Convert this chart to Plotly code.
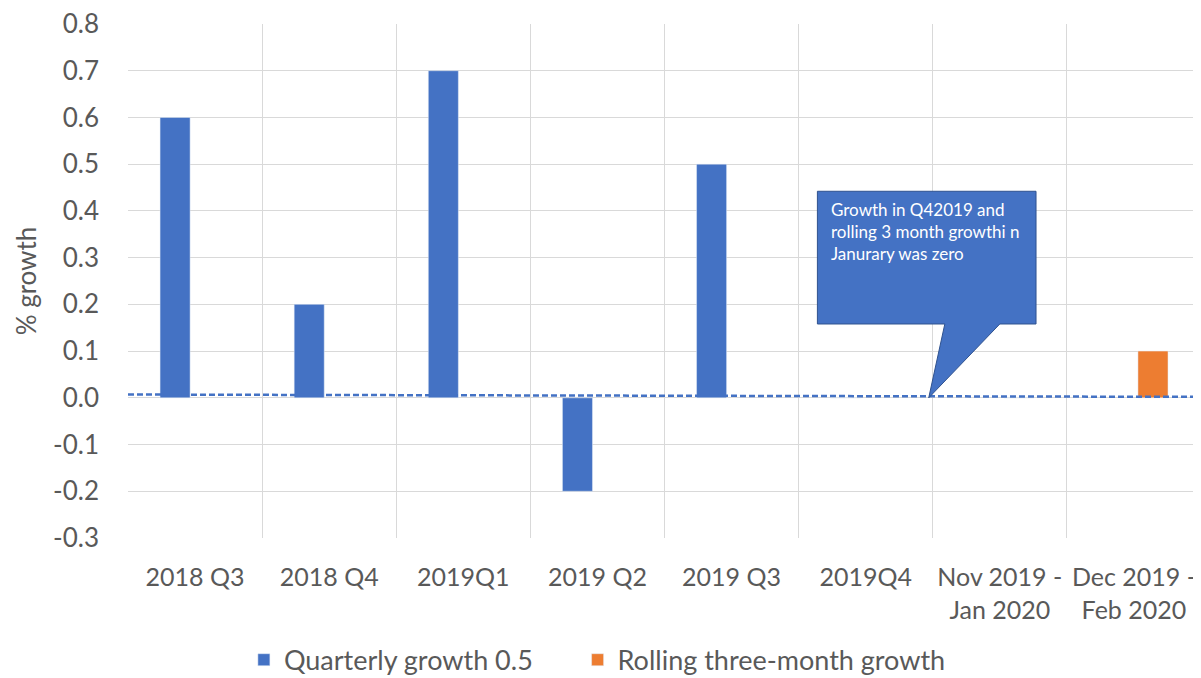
import plotly.graph_objects as go

categories = ["2018 Q3", "2018 Q4", "2019Q1", "2019 Q2", "2019 Q3", "2019Q4",
              "Nov 2019 -<br>Jan 2020", "Dec 2019 -<br>Feb 2020"]
quarterly = [0.6, 0.2, 0.7, -0.2, 0.5, 0.0, None, None]
rolling = [None, None, None, None, None, None, 0.0, 0.1]
trend_x = [-0.5, 7.5]
trend_y = [0.007, 0.002]
y_ticks = [-0.3, -0.2, -0.1, 0.0, 0.1, 0.2, 0.3, 0.4, 0.5, 0.6, 0.7, 0.8]

FONT = "Lato, 'Open Sans', sans-serif"
GREY = "#595959"
BLUE = "#4472C4"
ORANGE = "#ED7D31"

x = list(range(len(categories)))

fig = go.Figure()

fig.add_trace(
    go.Scatter(
        x=trend_x,
        y=trend_y,
        mode="lines",
        line=dict(color=BLUE, width=2.5, dash="6px,3px"),
        showlegend=False,
        hoverinfo="skip",
    )
)

fig.add_trace(
    go.Bar(
        x=x,
        y=quarterly,
        name="Quarterly growth 0.5",
        marker_color=BLUE,
        width=0.224,
        offset=-0.261,
        legend="legend",
    )
)

fig.add_trace(
    go.Bar(
        x=x,
        y=rolling,
        name="Rolling three-month growth",
        marker_color=ORANGE,
        width=0.224,
        offset=0.03,
        legend="legend2",
    )
)

# callout box
box_l, box_r, box_b, box_t = 4.64, 6.27, 0.158, 0.442
tip_x, tip_y = 5.47, 0.0
base_l, base_r = 5.59, 6.0
fig.add_shape(
    type="path",
    xref="x",
    yref="y",
    path=(
        f"M {box_l},{box_t} L {box_r},{box_t} L {box_r},{box_b} "
        f"L {base_r},{box_b} L {tip_x},{tip_y} L {base_l},{box_b} "
        f"L {box_l},{box_b} Z"
    ),
    fillcolor=BLUE,
    line=dict(color="#2F528F", width=1),
    layer="above",
)
fig.add_annotation(
    x=4.73,
    y=0.43,
    xref="x",
    yref="y",
    xanchor="left",
    yanchor="top",
    align="left",
    showarrow=False,
    text="Growth in Q42019 and<br>rolling 3 month growthi n<br>Janurary was zero",
    font=dict(family=FONT, size=17, color="white"),
)

legend_style = dict(
    orientation="h",
    xanchor="left",
    y=-0.19,
    yanchor="top",
    font=dict(size=27, color=GREY),
    bgcolor="rgba(0,0,0,0)",
)

# the page body adds an 8px offset, so the figure is 8px smaller than the window
fig.update_layout(
    width=1193,
    height=670,
    margin=dict(l=120, r=0, t=16, b=140, autoexpand=False),
    plot_bgcolor="white",
    paper_bgcolor="white",
    font=dict(family=FONT, size=24, color=GREY),
    barmode="overlay",
    legend=dict(legend_style, x=0.108),
    legend2=dict(legend_style, x=0.419),
    xaxis=dict(
        automargin=False,
        range=[-0.5, 7.5],
        tickmode="array",
        tickvals=x,
        ticktext=categories,
        showgrid=False,
        zeroline=False,
        ticks="",
        ticklabelstandoff=22,
        ticklabeloverflow="allow",
        minor=dict(
            tickmode="array",
            tickvals=[i - 0.5 for i in range(len(categories) + 1)],
            showgrid=True,
            gridcolor="#D9D9D9",
            gridwidth=1,
        ),
        tickfont=dict(size=25, color=GREY),
    ),
    yaxis=dict(
        automargin=False,
        range=[-0.3, 0.8],
        tickmode="array",
        tickvals=y_ticks,
        ticktext=[f"{v:.1f}" for v in y_ticks],
        showgrid=True,
        gridcolor="#D9D9D9",
        gridwidth=1,
        zeroline=False,
        ticklabelstandoff=28,
        ticklabeloverflow="allow",
        tickfont=dict(size=26, color=GREY),
        title=dict(text="% growth", standoff=8, font=dict(size=26, color=GREY)),
    ),
)

fig.write_html("out.html")
